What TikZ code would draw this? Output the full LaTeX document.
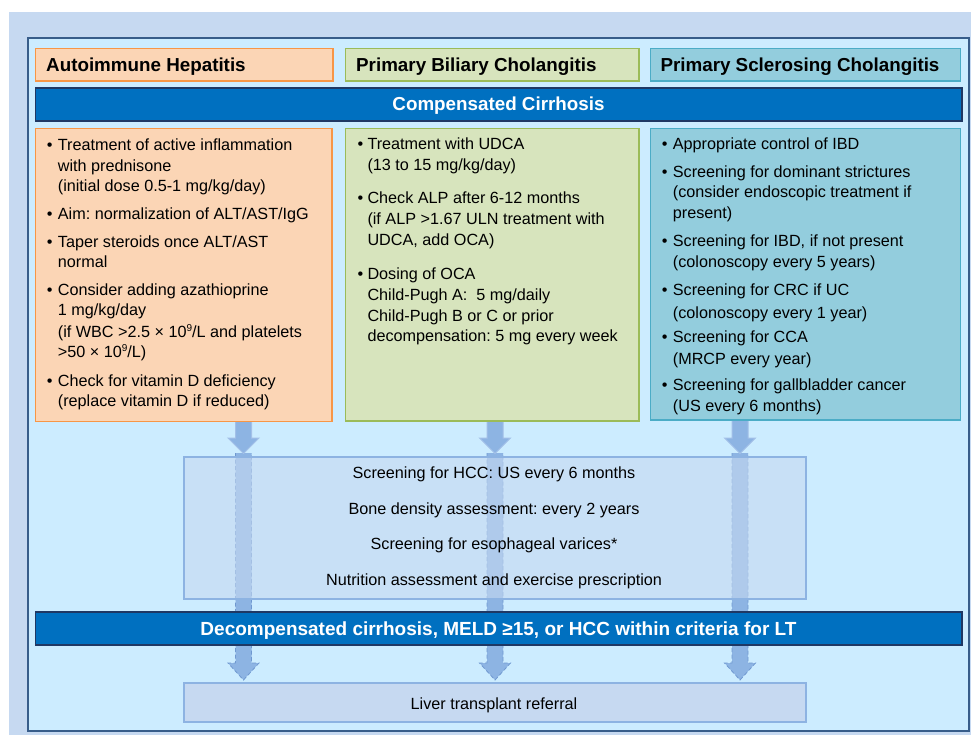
\documentclass[tikz,border=0pt]{standalone}
\usepackage{fontspec}
\setmainfont{Liberation Sans}
\usetikzlibrary{calc}
\frenchspacing
\definecolor{outerbg}{HTML}{C6D9F1}
\definecolor{framebg}{HTML}{CCECFF}
\definecolor{framedraw}{HTML}{385D8A}
\definecolor{ahfill}{HTML}{FBD5B5}
\definecolor{ahdraw}{HTML}{F79646}
\definecolor{pbcfill}{HTML}{D7E4BD}
\definecolor{pbcdraw}{HTML}{9BBB59}
\definecolor{pscfill}{HTML}{93CDDD}
\definecolor{pscdraw}{HTML}{4BACC6}
\definecolor{barfill}{HTML}{0070C0}
\definecolor{bardraw}{HTML}{1F3864}
\definecolor{midfill}{HTML}{C6D9F1}
\definecolor{middraw}{HTML}{8DB3E2}
\definecolor{arrfill}{HTML}{8DB4E3}
\definecolor{arrdraw}{HTML}{A3C0E8}
\definecolor{arrdash}{HTML}{6F98D0}
\newcommand\txtline[4]{\node[tx] (#1) at (#2,#3) {#4};}
\newcommand\bulline[5]{\node[tx] (#1b) at (#2,#4) {\textbullet};\node[tx] (#1) at (#3,#4) {#5};}
\newcommand\supnine{\raisebox{0.38em}{\fontsize{10}{10}\selectfont 9}}
\newcommand\uparr[1]{%
  \fill[arrfill] ($(#1)+(-8,0)$) -- ($(#1)+(-8,17)$) -- ($(#1)+(-15.5,17)$) -- ($(#1)+(0,32.5)$) -- ($(#1)+(15.5,17)$) -- ($(#1)+(8,17)$) -- ($(#1)+(8,0)$) -- cycle;
  \draw[arrdraw, line width=1pt] ($(#1)+(-8,0)$) -- ($(#1)+(-8,17)$) -- ($(#1)+(-15.5,17)$) -- ($(#1)+(0,32.5)$) -- ($(#1)+(15.5,17)$) -- ($(#1)+(8,17)$) -- ($(#1)+(8,0)$);}
\newcommand\lowarr[1]{%
  \fill[arrfill] ($(#1)+(-8,0)$) -- ($(#1)+(-8,210)$) -- ($(#1)+(-15.5,210)$) -- ($(#1)+(0,227)$) -- ($(#1)+(15.5,210)$) -- ($(#1)+(8,210)$) -- ($(#1)+(8,0)$) -- cycle;
  \draw[arrdash, line width=0.8pt, dashed, dash pattern=on 4pt off 2.5pt] ($(#1)+(-8,0)$) -- ($(#1)+(-8,210)$) -- ($(#1)+(-15.5,210)$) -- ($(#1)+(0,227)$) -- ($(#1)+(15.5,210)$) -- ($(#1)+(8,210)$) -- ($(#1)+(8,0)$);}
\begin{document}
\begin{tikzpicture}[x=1pt,y=-1pt,
  tx/.style={anchor=base west, inner sep=0pt, font=\fontsize{16.2}{19}\selectfont, text=black},
  ctx/.style={anchor=base, inner sep=0pt, font=\fontsize{16.2}{19}\selectfont, text=black},
  hd/.style={anchor=base west, inner sep=0pt, font=\fontsize{18.8}{22}\selectfont\bfseries, text=black},
  bartx/.style={anchor=base, inner sep=0pt, font=\fontsize{18.8}{22}\selectfont\bfseries, text=white},
  box/.style={line width=1.2pt, inner sep=0pt, outer sep=0pt, anchor=north west},
  bar/.style={box, fill=barfill, draw=bardraw, minimum width=926.5pt, minimum height=33pt}
]
\useasboundingbox (0,0) rectangle (971,735);
\fill[outerbg] (9,12) rectangle (971,735);
\node[box, fill=framebg, draw=framedraw, line width=1.5pt, minimum width=941pt, minimum height=693pt] (frame) at (28,38) {};

% connector anchors
\coordinate (u1) at (243.5,421);
\coordinate (u2) at (495,421);
\coordinate (u3) at (740,421);
\coordinate (l1) at (243.5,453);
\coordinate (l2) at (495,453);
\coordinate (l3) at (740,453);
\lowarr{l1}\lowarr{l2}\lowarr{l3}
\uparr{u1}\uparr{u2}\uparr{u3}

% middle box
\node[box, fill=midfill, fill opacity=0.6, draw=middraw, line width=1.2pt, minimum width=622pt, minimum height=142pt] (mid) at (184,457) {};
\node[box, fill=midfill, draw=middraw, minimum width=622pt, minimum height=39pt] (lt) at (184,683) {};

% bars
\node[bar] (comp) at (35.5,88) {};
\node[bar] (decomp) at (35.5,612) {};

% headers
\node[box, fill=ahfill, draw=ahdraw, minimum width=297.5pt, minimum height=32.5pt] (ahh) at (35.5,48.5) {};
\node[box, fill=pbcfill, draw=pbcdraw, minimum width=293.5pt, minimum height=32.5pt] (pbch) at (345.5,48.5) {};
\node[box, fill=pscfill, draw=pscdraw, minimum width=310pt, minimum height=32.5pt] (psch) at (650.5,48.5) {};

% content boxes
\node[box, fill=ahfill, draw=ahdraw, minimum width=296.5pt, minimum height=293pt] (ahc) at (35.5,128.5) {};
\node[box, fill=pbcfill, draw=pbcdraw, minimum width=293.5pt, minimum height=292.5pt] (pbcc) at (345.5,128.5) {};
\node[box, fill=pscfill, draw=pscdraw, minimum width=310pt, minimum height=291.5pt] (pscc) at (650.5,128.5) {};

% header texts
\node[hd] (ahht) at (46,72) {Autoimmune Hepatitis};
\node[hd] (pbcht) at (356,72) {Primary Biliary Cholangitis};
\node[hd] (pscht) at (660.3,72) {Primary Sclerosing Cholangitis};
\node[bartx] (compt) at (498.5,111) {Compensated Cirrhosis};
\node[bartx, font=\fontsize{19}{22}\selectfont\bfseries] (decompt) at (498.5,635) {Decompensated cirrhosis, MELD ≥15, or HCC within criteria for LT};

% AH
\bulline{a1}{46.7}{57.7}{150.7}{Treatment of active inflammation}
\txtline{a2}{57.7}{171.2}{with prednisone}
\txtline{a3}{57.7}{191.7}{(initial dose 0.5-1 mg/kg/day)}
\bulline{a4}{46.7}{57.7}{220}{Aim: normalization of ALT/AST/IgG}
\bulline{a5}{46.7}{57.7}{247.3}{Taper steroids once ALT/AST}
\txtline{a6}{57.7}{267.7}{normal}
\bulline{a7}{46.7}{57.7}{295}{Consider adding azathioprine}
\txtline{a8}{57.7}{315.7}{1 mg/kg/day}
\txtline{a9}{57.7}{337.3}{(if WBC >2.5 × 10\supnine/L and platelets}
\txtline{a10}{57.7}{357.7}{>50 × 10\supnine/L)}
\bulline{a11}{46.7}{57.7}{386}{Check for vitamin D deficiency}
\txtline{a12}{57.7}{406.7}{(replace vitamin D if reduced)}

% PBC
\bulline{p1}{357.3}{367.3}{150}{Treatment with UDCA}
\txtline{p2}{367.3}{171}{(13 to 15 mg/kg/day)}
\bulline{p3}{357.3}{367.3}{204}{Check ALP after 6-12 months}
\txtline{p4}{367.3}{225}{(if ALP >1.67 ULN treatment with}
\txtline{p5}{367.3}{245.7}{UDCA, add OCA)}
\bulline{p6}{357.3}{367.3}{279}{Dosing of OCA}
\txtline{p7}{367.3}{300}{Child-Pugh A:\ \ 5 mg/daily}
\txtline{p8}{367.3}{321}{Child-Pugh B or C or prior}
\txtline{p9}{367.3}{341.7}{decompensation: 5 mg every week}

% PSC
\bulline{s1}{661.7}{672.7}{150}{Appropriate control of IBD}
\bulline{s2}{661.7}{672.7}{177.3}{Screening for dominant strictures}
\txtline{s3}{672.7}{197.7}{(consider endoscopic treatment if}
\txtline{s4}{672.7}{218.3}{present)}
\bulline{s5}{661.7}{672.7}{247}{Screening for IBD, if not present}
\txtline{s6}{672.7}{267.7}{(colonoscopy every 5 years)}
\bulline{s7}{661.7}{672.7}{295.7}{Screening for CRC if UC}
\txtline{s8}{672.7}{318}{(colonoscopy every 1 year)}
\bulline{s9}{661.7}{672.7}{342.5}{Screening for CCA}
\txtline{s10}{672.7}{364}{(MRCP every year)}
\bulline{s11}{661.7}{672.7}{390}{Screening for gallbladder cancer}
\txtline{s12}{672.7}{411}{(US every 6 months)}

% middle texts
\node[ctx] (m1) at (494,478.3) {Screening for HCC: US every 6 months};
\node[ctx] (m2) at (494,514.3) {Bone density assessment: every 2 years};
\node[ctx] (m3) at (494,549.3) {Screening for esophageal varices*};
\node[ctx] (m4) at (494,585) {Nutrition assessment and exercise prescription};
\node[ctx] (ltt) at (494,709) {Liver transplant referral};
\end{tikzpicture}
\end{document}
